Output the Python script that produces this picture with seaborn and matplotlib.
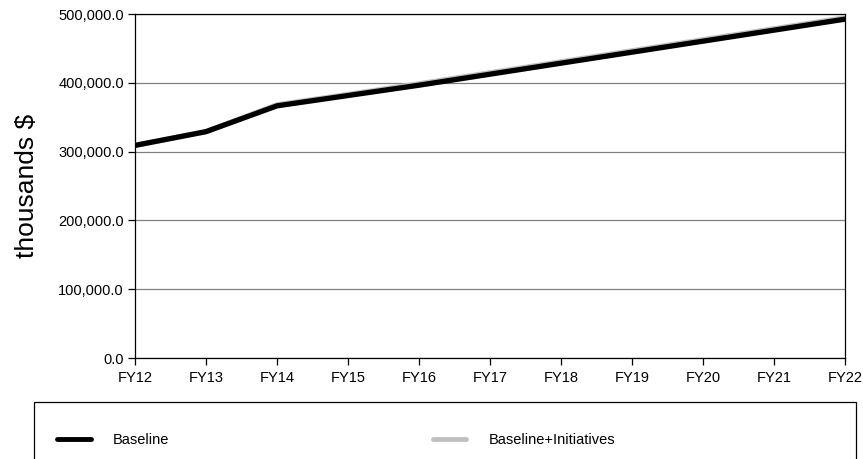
import matplotlib
matplotlib.use("Agg")
import matplotlib.pyplot as plt
import matplotlib.ticker as mticker
from matplotlib.lines import Line2D
from matplotlib.patches import Rectangle
import pandas as pd
import seaborn as sns

years = ["FY12", "FY13", "FY14", "FY15", "FY16", "FY17", "FY18", "FY19", "FY20", "FY21", "FY22"]
baseline = [309000, 329000, 366500, 381500, 396500, 412500, 428500, 444500, 460500, 476500, 492500]
baseline_initiatives = [309000, 329000, 368000, 383000, 398500, 414500, 430500, 446500, 462500, 478500, 494500]
series_names = ["Baseline", "Baseline+Initiatives"]
y_ticks = [0, 100000, 200000, 300000, 400000, 500000]

df = pd.DataFrame({
    "year": years * 2,
    "pos": list(range(len(years))) * 2,
    "value": baseline + baseline_initiatives,
    "series": [series_names[0]] * len(years) + [series_names[1]] * len(years),
})

sns.set_style("white")
plt.rcParams["font.family"] = ["Liberation Sans", "DejaVu Sans"]
plt.rcParams["text.color"] = "black"
plt.rcParams["axes.labelcolor"] = "black"
plt.rcParams["xtick.color"] = "black"
plt.rcParams["ytick.color"] = "black"

fig = plt.figure(figsize=(8.63, 4.59), dpi=100)
ax = fig.add_axes([135 / 863, 1 - 358 / 459, 710 / 863, 344 / 459])

colors = {"Baseline": "#000000", "Baseline+Initiatives": "#c0c0c0"}
# draw the initiatives line first so the baseline sits on top
sns.lineplot(data=df[df.series == series_names[1]], x="pos", y="value", color=colors[series_names[1]],
             lw=3.8, ax=ax, legend=False, solid_capstyle="round", zorder=3)
sns.lineplot(data=df[df.series == series_names[0]], x="pos", y="value", color=colors[series_names[0]],
             lw=3.8, ax=ax, legend=False, solid_capstyle="round", zorder=4)

ax.set_xlim(0, len(years) - 1)
ax.set_ylim(0, 500000)
ax.set_xticks(range(len(years)))
ax.set_xticklabels(years)
ax.set_yticks(y_ticks)
ax.yaxis.set_major_formatter(mticker.FuncFormatter(lambda v, p: f"{v:,.1f}"))
ax.grid(axis="y", color="#808080", lw=0.9)
ax.set_axisbelow(True)
for s in ax.spines.values():
    s.set_color("black")
    s.set_linewidth(0.9)
ax.tick_params(axis="both", direction="out", length=5, width=0.9, color="black",
               labelsize=10.5, bottom=True, left=True, labelcolor="black")
ax.tick_params(axis="x", pad=4)
ax.tick_params(axis="y", pad=3)
ax.set_xlabel("")
ax.set_ylabel("thousands $", fontsize=19, labelpad=14, color="black")

# legend panel below the plot
fig.patches.append(Rectangle((34 / 863, -0.1), 822 / 863, 0.1 + (459 - 402) / 459,
                             transform=fig.transFigure, fill=False, edgecolor="black", lw=0.9))
handles = [Line2D([0], [0], color=colors[n], lw=3.5, solid_capstyle="round") for n in series_names]
fig.legend(handles, series_names, loc="center left", bbox_to_anchor=(44 / 863, 1 - 440 / 459),
           ncol=2, frameon=False, fontsize=10.5, handlelength=2.3, handletextpad=1.5,
           columnspacing=18.1)

fig.savefig("out.png", dpi=100)
